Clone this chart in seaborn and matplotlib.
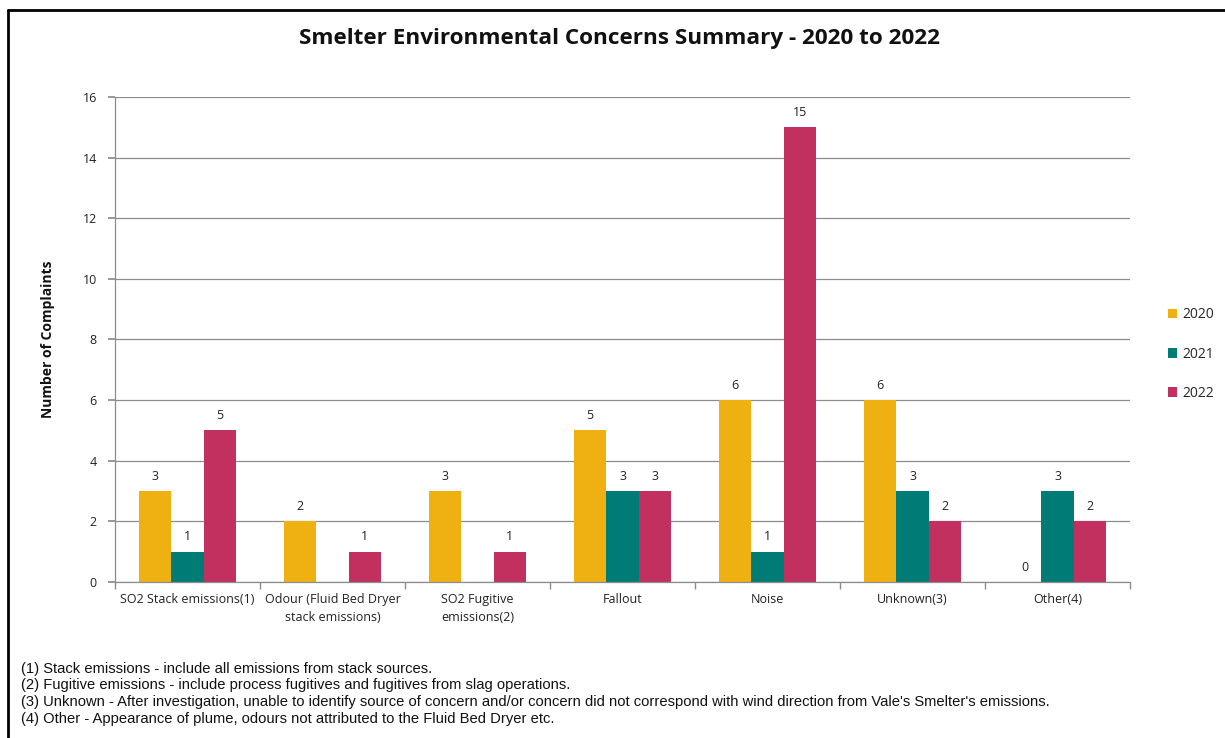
import matplotlib
matplotlib.use("Agg")
import matplotlib.pyplot as plt
import seaborn as sns
import pandas as pd
import numpy as np
from matplotlib.lines import Line2D
from matplotlib.patches import Patch

categories = ["SO2 Stack emissions(1)", "Odour (Fluid Bed Dryer\nstack emissions)",
              "SO2 Fugitive\nemissions(2)", "Fallout", "Noise", "Unknown(3)", "Other(4)"]
years = ["2020", "2021", "2022"]
v2020 = [3, 2, 3, 5, 6, 6, 0]
v2021 = [1, None, None, 3, 1, 3, 3]
v2022 = [5, 1, 1, 3, 15, 2, 2]
colors = ["#EEB111", "#007B75", "#C1305E"]
yticks = [0, 2, 4, 6, 8, 10, 12, 14, 16]
footnotes = [
    "(1) Stack emissions - include all emissions from stack sources.",
    "(2) Fugitive emissions - include process fugitives and fugitives from slag operations.",
    "(3) Unknown - After investigation, unable to identify source of concern and/or concern did not correspond with wind direction from Vale's Smelter's emissions.",
    "(4) Other - Appearance of plume, odours not attributed to the Fluid Bed Dryer etc.",
]

rows = []
for yr, vals in zip(years, [v2020, v2021, v2022]):
    for c, v in zip(categories, vals):
        rows.append({"cat": c, "year": yr, "val": v})
df = pd.DataFrame(rows)

sns.set_theme(style="white")
plt.rcParams["font.family"] = ["Open Sans", "DejaVu Sans"]

fig = plt.figure(figsize=(12.25, 7.38), dpi=100)
ax = fig.add_axes([0.0939, 0.2114, 0.8286, 0.6572])

sns.barplot(data=df, x="cat", y="val", hue="year", palette=colors, width=0.67,
            ax=ax, legend=False, saturation=1, order=categories, hue_order=years,
            linewidth=0, edgecolor="none")

ax.set_ylim(0, 16)
ax.set_xlim(-0.5, len(categories) - 0.5)
ax.set_yticks(yticks)
ax.set_yticklabels([str(t) for t in yticks], fontsize=9, color="#222222")
ax.yaxis.grid(True, color="#8c8c8c", linewidth=0.9)
ax.set_axisbelow(True)
for s in ["top", "right"]:
    ax.spines[s].set_visible(False)
for s in ["left", "bottom"]:
    ax.spines[s].set_color("#8c8c8c")
    ax.spines[s].set_linewidth(0.9)
ax.tick_params(axis="y", which="major", left=True, length=5, color="#8c8c8c", pad=8)
ax.set_xticks(range(len(categories)))
ax.set_xticklabels(categories, fontsize=9, color="#222222", linespacing=1.5)
ax.tick_params(axis="x", which="major", length=0, pad=8)
ax.set_xticks(np.arange(-0.5, len(categories), 1.0), minor=True)
ax.tick_params(axis="x", which="minor", bottom=True, length=5, color="#8c8c8c")
ax.set_xlabel("")
ax.set_ylabel("Number of Complaints", fontsize=10, fontweight="bold", labelpad=20, color="#111111")

for cont in ax.containers:
    labels = []
    for bar in cont:
        h = bar.get_height()
        labels.append("" if np.isnan(h) else f"{int(h)}")
    ax.bar_label(cont, labels=labels, padding=6, fontsize=9, color="#222222")

fig.suptitle("Smelter Environmental Concerns Summary - 2020 to 2022", x=0.506, y=0.962,
             fontsize=16.2, fontweight="bold", color="#111111")

handles = [Patch(facecolor=c, edgecolor="none") for c in colors]
fig.legend(handles, years, loc="center left", bbox_to_anchor=(0.943, 0.52), frameon=False,
           fontsize=10, handlelength=0.7, handleheight=0.7, handletextpad=0.35, labelspacing=1.75)

fy = 1 - 669 / 738
for i, t in enumerate(footnotes):
    fig.text(0.017, fy - i * (16.5 / 738), t, fontsize=10.6, family=["Liberation Sans", "DejaVu Sans"],
             color="#111111", va="center")

# border lines (top and left)
fig.add_artist(Line2D([8 / 1225, 1.0], [1 - 10 / 738, 1 - 10 / 738], color="black", linewidth=2,
                      transform=fig.transFigure))
fig.add_artist(Line2D([8 / 1225, 8 / 1225], [0, 1 - 10 / 738], color="black", linewidth=2,
                      transform=fig.transFigure))

fig.savefig("out.png", dpi=100, facecolor="white")
